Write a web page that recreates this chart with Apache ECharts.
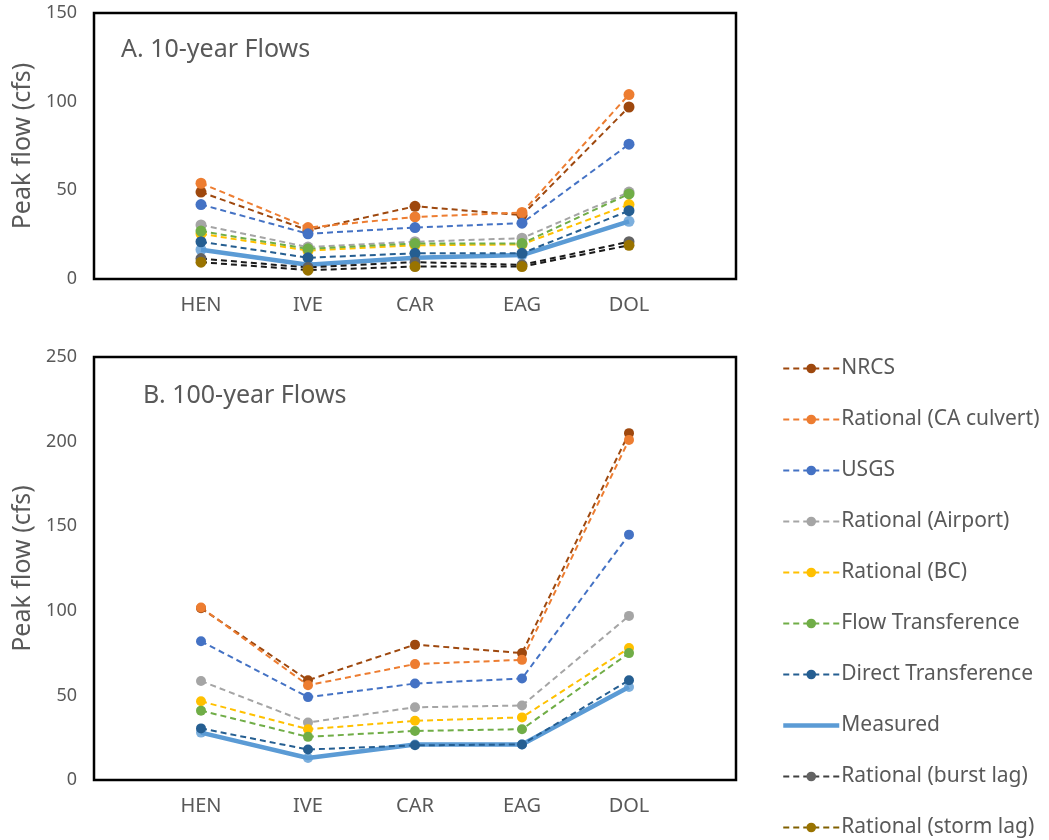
<!DOCTYPE html>
<html>
<head>
<meta charset="utf-8">
<script src="https://cdn.jsdelivr.net/npm/echarts@6/dist/echarts.min.js"></script>
<style>
html,body{margin:0;padding:0;background:#fff;}
#chart{width:1049px;height:840px;}
</style>
</head>
<body>
<div id="chart"></div>
<script>
// ---- Data ----
var categories = ['HEN', 'IVE', 'CAR', 'EAG', 'DOL'];
var seriesNames = ['NRCS', 'Rational (CA culvert)', 'USGS', 'Rational (Airport)', 'Rational (BC)',
  'Flow Transference', 'Direct Transference', 'Measured', 'Rational (burst lag)', 'Rational (storm lag)'];

// A. 10-year flows
var a_NRCS      = [49, 27.5, 41, 36, 97];
var a_CACulvert = [54, 29, 35, 37.5, 104];
var a_USGS      = [42, 25.5, 29, 31.5, 76];
var a_Airport   = [30.5, 18, 21, 23, 49];
var a_BC        = [25.5, 16, 19, 19.5, 42];
var a_FlowT     = [27, 17, 20, 20, 48];
var a_DirectT   = [21, 12, 14.5, 14.5, 38.5];
var a_Measured  = [16.5, 8, 12, 13.5, 32.5];
var a_BurstLag  = [11.5, 6.5, 9.5, 8, 21];
var a_StormLag  = [9.5, 5, 7, 7, 19];

// B. 100-year flows
var b_NRCS      = [101.5, 59, 80, 75, 205];
var b_CACulvert = [102, 56, 68.5, 71, 201];
var b_USGS      = [82, 49, 57, 60, 145];
var b_Airport   = [58.5, 34, 43, 44, 97];
var b_BC        = [46.5, 30, 35, 37, 78];
var b_FlowT     = [41, 25.5, 29, 30, 75];
var b_DirectT   = [30.5, 18, 20.5, 21, 59];
var b_Measured  = [28, 13, 21, 21, 55];

var yTicksA = [0, 50, 100, 150];
var yTicksB = [0, 50, 100, 150, 200, 250];

// ---- Styles ----
var colors = {
  'NRCS': '#9E480E',
  'Rational (CA culvert)': '#ED7D31',
  'USGS': '#4472C4',
  'Rational (Airport)': '#A5A5A5',
  'Rational (BC)': '#FFC000',
  'Flow Transference': '#70AD47',
  'Direct Transference': '#255E91',
  'Measured': '#5B9BD5',
  'Rational (burst lag)': '#636363',
  'Rational (storm lag)': '#997300'
};
var lineColors = {
  'Rational (burst lag)': '#1a1a1a',
  'Rational (storm lag)': '#1a1a1a'
};
var legendLineColors = {
  'Rational (burst lag)': '#404040',
  'Rational (storm lag)': '#806000'
};

var xData = [''].concat(categories).concat(['']);
function pad(arr){ return [null].concat(arr).concat([null]); }

var dataA = [a_NRCS, a_CACulvert, a_USGS, a_Airport, a_BC, a_FlowT, a_DirectT, a_Measured, a_BurstLag, a_StormLag];
var dataB = [b_NRCS, b_CACulvert, b_USGS, b_Airport, b_BC, b_FlowT, b_DirectT, b_Measured, null, null];

var textColor = '#595959';
var font = 'Noto Sans';

function mkSeries(name, data, gi, symSize){
  var measured = name === 'Measured';
  return {
    name: name,
    type: 'line',
    xAxisIndex: gi, yAxisIndex: gi,
    data: data ? pad(data) : [],
    symbol: measured ? 'none' : 'circle',
    symbolSize: symSize,
    showSymbol: true,
    connectNulls: false,
    z: measured ? 1 : 2,
    itemStyle: {color: colors[name]},
    lineStyle: {
      color: lineColors[name] || colors[name],
      width: measured ? 4.5 : 2,
      type: measured ? 'solid' : [6, 4]
    },
    emphasis: {disabled: true},
    animation: false
  };
}

var series = [];
seriesNames.forEach(function(n, i){
  series.push(mkSeries(n, dataA[i], 0, 11));
});
seriesNames.forEach(function(n, i){
  series.push(mkSeries(n, dataB[i], 1, 10));
});
// Measured markers (circles on the solid line)
series.push({type:'scatter', xAxisIndex:0, yAxisIndex:0, data: pad(a_Measured), symbolSize: 11,
  itemStyle:{color: colors['Measured']}, z: 1, animation:false, silent:true});
series.push({type:'scatter', xAxisIndex:1, yAxisIndex:1, data: pad(b_Measured), symbolSize: 10,
  itemStyle:{color: colors['Measured']}, z: 1, animation:false, silent:true});

function xAxis(gi){
  return {
    type: 'category', gridIndex: gi, data: xData, boundaryGap: false,
    axisLine: {show: false}, axisTick: {show: false}, splitLine: {show: false},
    axisLabel: {color: textColor, fontSize: 20, fontFamily: font, margin: 16, interval: 0}
  };
}
function yAxis(gi, max, interval){
  return {
    type: 'value', gridIndex: gi, min: 0, max: max, interval: interval,
    name: 'Peak flow (cfs)', nameLocation: 'middle', nameGap: 53,
    nameTextStyle: {color: textColor, fontSize: 25, fontFamily: font},
    axisLine: {show: false}, axisTick: {show: false}, splitLine: {show: false},
    axisLabel: {color: textColor, fontSize: 18, fontFamily: font, margin: 17}
  };
}

var legendData = seriesNames.map(function(n){
  var item = {name: n};
  if (legendLineColors[n]) item.lineStyle = {color: legendLineColors[n]};
  if (n === 'Measured') {
    item.itemStyle = {opacity: 0};
    item.lineStyle = {width: 4.5};
  }
  return item;
});

var option = {
  backgroundColor: '#fff',
  animation: false,
  title: [
    {text: 'A. 10-year Flows', left: 116, top: 32, textStyle: {color: textColor, fontSize: 25, fontWeight: 'normal', fontFamily: font}},
    {text: 'B. 100-year Flows', left: 138, top: 378, textStyle: {color: textColor, fontSize: 25, fontWeight: 'normal', fontFamily: font}}
  ],
  grid: [
    {left: 94, top: 13, width: 642, height: 266, show: true, borderColor: '#000', borderWidth: 2.5, backgroundColor: '#fff'},
    {left: 94, top: 357, width: 642, height: 423, show: true, borderColor: '#000', borderWidth: 2.5, backgroundColor: '#fff'}
  ],
  xAxis: [xAxis(0), xAxis(1)],
  yAxis: [yAxis(0, 150, 50), yAxis(1, 250, 50)],
  legend: {
    orient: 'vertical', left: 781, top: 358, padding: 0,
    itemWidth: 56, itemHeight: 12, itemGap: 30,
    selectedMode: false,
    textStyle: {color: textColor, fontSize: 21, fontFamily: font, padding: [0, 0, 0, -3]},
    data: legendData
  },
  series: series
};

var chart = echarts.init(document.getElementById('chart'), null, {renderer: 'canvas'});
chart.setOption(option);
</script>
</body>
</html>
